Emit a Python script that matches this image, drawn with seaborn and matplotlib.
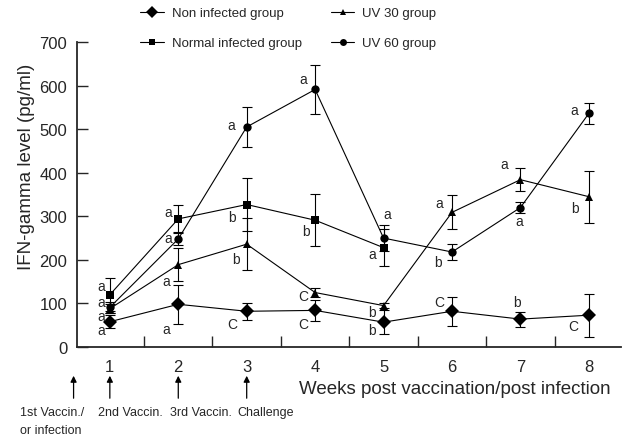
import pandas as pd
import numpy as np
import matplotlib.pyplot as plt
import seaborn as sns

# values (pg/ml)
weeks = [1, 2, 3, 4, 5, 6, 7, 8]
non_infected = [58, 98, 82, 84, 57, 82, 64, 73]
non_infected_err = [15, 45, 20, 25, 28, 33, 17, 49]
normal_weeks = [1, 2, 3, 4, 5]
normal_infected = [120, 294, 327, 291, 228]
normal_infected_err = [38, 32, 60, 60, 42]
uv30 = [88, 189, 236, 125, 95, 309, 384, 345]
uv30_err = [10, 38, 60, 10, 5, 39, 27, 60]
uv60 = [91, 248, 505, 591, 250, 218, 320, 536]
uv60_err = [12, 15, 45, 57, 30, 18, 13, 24]

# significance letters (x, y, letter)
letter_x = [0.87, 0.87, 0.87, 0.87, 1.83, 1.83, 1.86, 1.85,
            2.79, 2.84, 2.79, 2.77, 3.82, 3.82, 3.86, 3.82,
            4.83, 4.83, 4.83, 5.06, 5.81, 5.79, 5.81,
            6.95, 6.99, 6.77, 7.77, 7.80, 7.78]
letter_y = [141, 103, 71, 38, 41, 151, 310, 250,
            53, 202, 298, 509, 53, 117, 266, 615,
            39, 80, 213, 305, 103, 195, 330,
            103, 289, 420, 48, 319, 544]
letters = ['a', 'a', 'a', 'a', 'a', 'a', 'a', 'a',
           'C', 'b', 'b', 'a', 'C', 'C', 'b', 'a',
           'b', 'b', 'a', 'a', 'C', 'b', 'a',
           'b', 'a', 'a', 'C', 'b', 'a']

groups = ['Non infected group', 'Normal infected group', 'UV 30 group', 'UV 60 group']
markers = {'Non infected group': 'D', 'Normal infected group': 's',
           'UV 30 group': '^', 'UV 60 group': 'o'}
msizes = {'Non infected group': 7, 'Normal infected group': 6,
          'UV 30 group': 6, 'UV 60 group': 6}

# build long table
df = pd.concat([
    pd.DataFrame({'week': weeks, 'ifn': non_infected, 'err': non_infected_err, 'group': groups[0]}),
    pd.DataFrame({'week': normal_weeks, 'ifn': normal_infected, 'err': normal_infected_err, 'group': groups[1]}),
    pd.DataFrame({'week': weeks, 'ifn': uv30, 'err': uv30_err, 'group': groups[2]}),
    pd.DataFrame({'week': weeks, 'ifn': uv60, 'err': uv60_err, 'group': groups[3]}),
])

sns.set_style('ticks')
plt.rcParams['font.family'] = ['Liberation Sans', 'DejaVu Sans']

fig = plt.figure(figsize=(6.24, 4.39), dpi=100)
ax = fig.add_axes([77 / 624, 1 - 348 / 439, (621 - 77) / 624, (348 - 43) / 439])

handles = []
for g in groups:
    sub = df[df['group'] == g]
    sns.lineplot(data=sub, x='week', y='ifn', ax=ax, color='black', lw=0.8,
                 marker=markers[g], markersize=msizes[g], markeredgewidth=0,
                 legend=False)
    ax.errorbar(sub['week'], sub['ifn'], yerr=sub['err'], fmt='none',
                ecolor='black', elinewidth=0.8, capsize=3.5, capthick=0.8)
    handles.append(plt.Line2D([0], [0], color='black', lw=0.8, marker=markers[g],
                              markersize=msizes[g] - 1, markeredgewidth=0, label=g))

for x, y, t in zip(letter_x, letter_y, letters):
    ax.text(x, y, t, ha='center', va='center', fontsize=10)

ax.set_xlim(0.52, 8.47)
ax.set_ylim(0, 700)
ax.set_yticks(range(0, 701, 100))
ax.set_xticks(weeks)
ax.set_xticks(np.arange(1.5, 8, 1), minor=True)
ax.tick_params(axis='x', which='major', length=0, pad=9, labelsize=12)
ax.tick_params(axis='x', which='minor', direction='in', length=8, width=1)
ax.tick_params(axis='y', direction='in', length=8, width=1, pad=7, labelsize=12)
ax.set_xlabel('')
ax.set_ylabel('')
sns.despine(ax=ax)
for s in ['left', 'bottom']:
    ax.spines[s].set_linewidth(1.3)

fig.text(27 / 624, 1 - 167 / 439, 'IFN-gamma level (pg/ml)', rotation=90,
         ha='center', va='center', fontsize=13.5)
fig.text(299 / 624, 1 - 390 / 439, 'Weeks post vaccination/post infection',
         ha='left', va='center', fontsize=13.5)

# legend
fig.legend(handles=handles, ncol=2, loc='upper left',
           bbox_to_anchor=(140 / 624, 1 - 8 / 439), frameon=False,
           fontsize=9.5, handlelength=1.8, handletextpad=0.6,
           columnspacing=2.2, labelspacing=1.35, borderpad=0, borderaxespad=0)

# arrows and event labels below the axis
trans = ax.get_xaxis_transform()
for xa in [0.47, 1, 2, 3]:
    ax.annotate('', xy=(xa, -(374 - 348) / 305), xytext=(xa, -(402 - 348) / 305),
                xycoords=trans, textcoords=trans, annotation_clip=False,
                arrowprops=dict(arrowstyle='-|>', color='black', lw=0.9,
                                mutation_scale=9))
fig.text(20 / 624, 1 - 413 / 439, '1st Vaccin./', ha='left', va='center', fontsize=9)
fig.text(20 / 624, 1 - 431 / 439, 'or infection', ha='left', va='center', fontsize=9)
fig.text(98 / 624, 1 - 413 / 439, '2nd Vaccin.', ha='left', va='center', fontsize=9)
fig.text(170 / 624, 1 - 413 / 439, '3rd Vaccin.', ha='left', va='center', fontsize=9)
fig.text(237 / 624, 1 - 413 / 439, 'Challenge', ha='left', va='center', fontsize=9)

plt.savefig('out.png', dpi=100)
